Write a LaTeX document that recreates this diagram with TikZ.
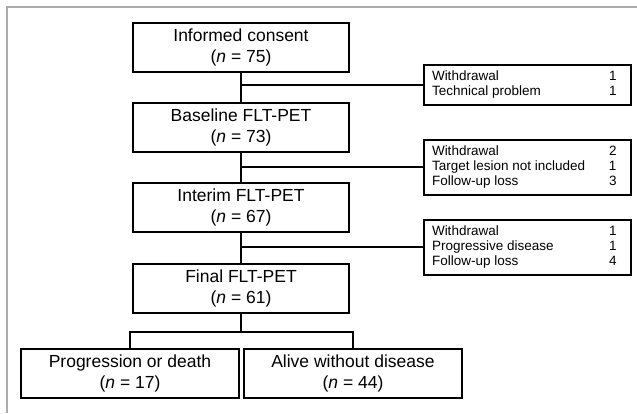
\documentclass[tikz,border=0pt]{standalone}
\usepackage{fontspec}
\setmainfont{Liberation Sans}
\usetikzlibrary{positioning}
\tikzset{
  stage/.style={rectangle, draw, line width=2pt, minimum width=216pt, minimum height=49pt, align=center, inner sep=2pt, font=\fontsize{17.5}{21}\selectfont},
  outcome/.style={stage, minimum width=218pt},
  loss/.style={rectangle, draw, line width=2pt, anchor=west, inner xsep=8pt, inner ysep=5pt, font=\fontsize{13.5}{15}\selectfont},
  link/.style={line width=2pt},
  frame/.style={line width=2pt, black!32}
}

\begin{document}
\begin{tikzpicture}[x=1pt, y=-1pt]
    \useasboundingbox (0,0) rectangle (637,413);
    % Outer frame (top and left edges only)
    \draw[frame] (6.5,413) -- (6.5,6.5) -- (637,6.5);

    % Main stages
    \node[stage] (consent) at (241, 47.5) {Informed consent\\(\textit{n} = 75)};
    \node[stage] (baseline) at (241, 127) {Baseline FLT-PET\\(\textit{n} = 73)};
    \node[stage] (interim) at (241, 207.5) {Interim FLT-PET\\(\textit{n} = 67)};
    \node[stage] (final) at (241, 288) {Final FLT-PET\\(\textit{n} = 61)};

    % Outcomes
    \node[outcome] (prog) at (130, 373) {Progression or death\\(\textit{n} = 17)};
    \node[outcome] (alive) at (353, 373) {Alive without disease\\(\textit{n} = 44)};

    % Exclusions
    \node[loss] (loss1) at (423, 85) {\begin{tabular}{@{}p{177pt}@{}r@{\hspace{6pt}}}
      Withdrawal & 1\\ Technical problem & 1\end{tabular}};
    \node[loss] (loss2) at (423, 167) {\begin{tabular}{@{}p{177pt}@{}r@{\hspace{6pt}}}
      Withdrawal & 2\\ Target lesion not included & 1\\ Follow-up loss & 3\end{tabular}};
    \node[loss] (loss3) at (423, 247) {\begin{tabular}{@{}p{177pt}@{}r@{\hspace{6pt}}}
      Withdrawal & 1\\ Progressive disease & 1\\ Follow-up loss & 4\end{tabular}};

    % Trunk
    \draw[link] (consent) -- (baseline);
    \draw[link] (baseline) -- (interim);
    \draw[link] (interim) -- (final);

    % Branches to exclusions
    \coordinate (j1) at (consent.south |- loss1.west);
    \coordinate (j2) at (consent.south |- loss2.west);
    \coordinate (j3) at (consent.south |- loss3.west);
    \draw[link] (j1) -- (loss1.west);
    \draw[link] (j2) -- (loss2.west);
    \draw[link] (j3) -- (loss3.west);

    % Split into outcomes
    \coordinate (split) at (241, 332);
    \draw[link] (final) -- (split);
    \draw[link] (prog.north) |- (split) -| (alive.north);
\end{tikzpicture}
\end{document}
